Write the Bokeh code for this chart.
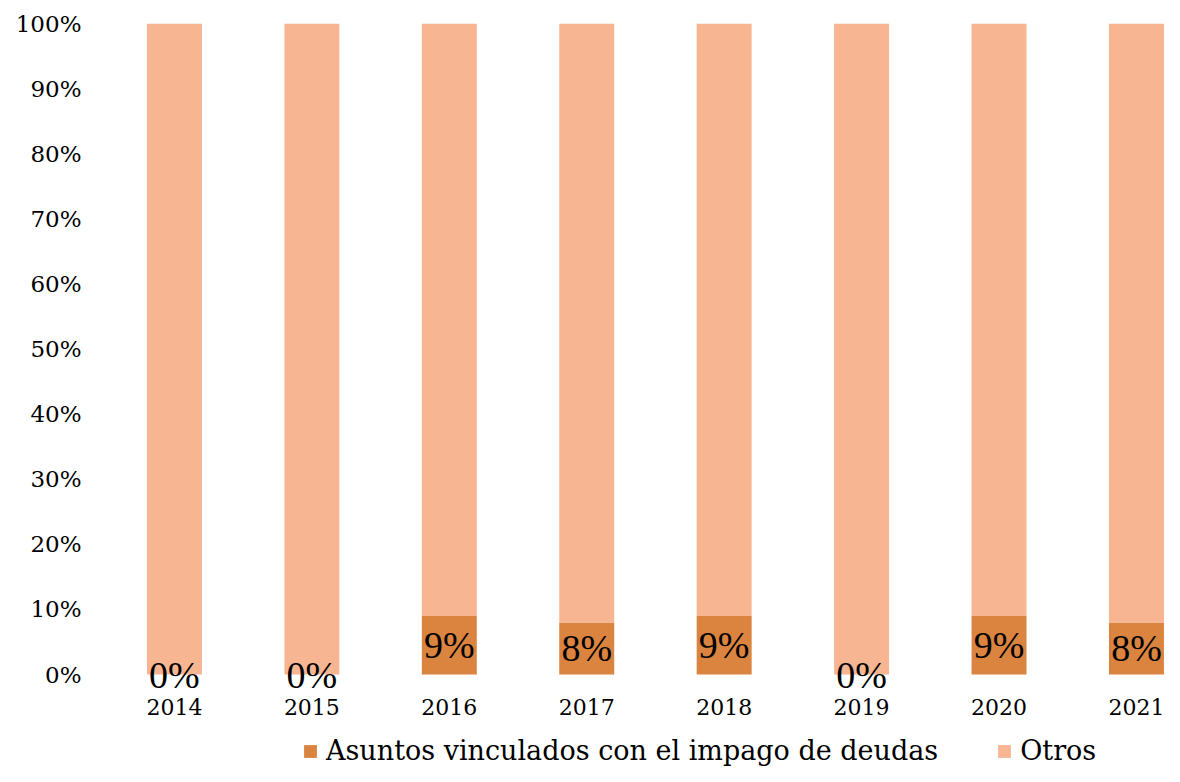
from bokeh.plotting import figure
from bokeh.models import (ColumnDataSource, Range1d, NumeralTickFormatter, FixedTicker,
                          Legend, LegendItem, LabelSet)
from bokeh.embed import file_html
from bokeh.resources import INLINE

years = ["2014", "2015", "2016", "2017", "2018", "2019", "2020", "2021"]
deudas = [0, 0, 9, 8, 9, 0, 9, 8]
otros = [100, 100, 91, 92, 91, 100, 91, 92]
series_names = ["Asuntos vinculados con el impago de deudas", "Otros"]
colors = ["#DB843F", "#F8B592"]

FONT = "DejaVu Serif"

xs = list(range(len(years)))
src = ColumnDataSource(dict(
    x=xs,
    deudas=[v / 100 for v in deudas],
    otros=[v / 100 for v in otros],
    label_y=[v / 200 for v in deudas],
    label=[f"{v}%" for v in deudas],
))

p = figure(width=1164, height=766, output_backend="svg", toolbar_location=None,
           x_range=Range1d(-0.538, 7.204), y_range=Range1d(-0.1413, 1),
           min_border_left=100, min_border_right=0, min_border_top=23, min_border_bottom=0)
p.outline_line_color = None
p.xgrid.visible = False
p.ygrid.visible = False

r = p.vbar_stack(["deudas", "otros"], x="x", width=0.4, color=colors, source=src,
                 line_color=None)

labels = LabelSet(x="x", y="label_y", text="label", source=src, text_align="center",
                  text_baseline="middle", text_font=FONT, text_font_size="38px",
                  text_color="black")
p.add_layout(labels)

p.yaxis.ticker = FixedTicker(ticks=[i / 10 for i in range(11)])
p.yaxis.formatter = NumeralTickFormatter(format="0%")
p.xaxis.ticker = FixedTicker(ticks=xs)
p.xaxis.major_label_overrides = {i: y for i, y in enumerate(years)}
p.xaxis.fixed_location = 0
for ax in (p.xaxis, p.yaxis):
    ax.axis_line_color = None
    ax.major_tick_line_color = None
    ax.minor_tick_line_color = None
    ax.major_label_text_font = FONT
    ax.major_label_text_font_size = "23px"
    ax.major_label_text_color = "black"
p.xaxis.major_label_text_font_size = "22px"
p.xaxis.major_label_standoff = 18
p.yaxis.major_label_standoff = 13

legend = Legend(items=[LegendItem(label=series_names[0], renderers=[r[0]]),
                       LegendItem(label=series_names[1], renderers=[r[1]])],
                orientation="horizontal", location=(202, 0),
                label_text_font=FONT, label_text_font_size="27px",
                label_text_color="black",
                glyph_width=16, glyph_height=16, label_standoff=8, spacing=58,
                padding=0, margin=0, border_line_color=None, background_fill_alpha=0)
p.add_layout(legend, "center")

open("out.html", "w").write(file_html(p, INLINE))
